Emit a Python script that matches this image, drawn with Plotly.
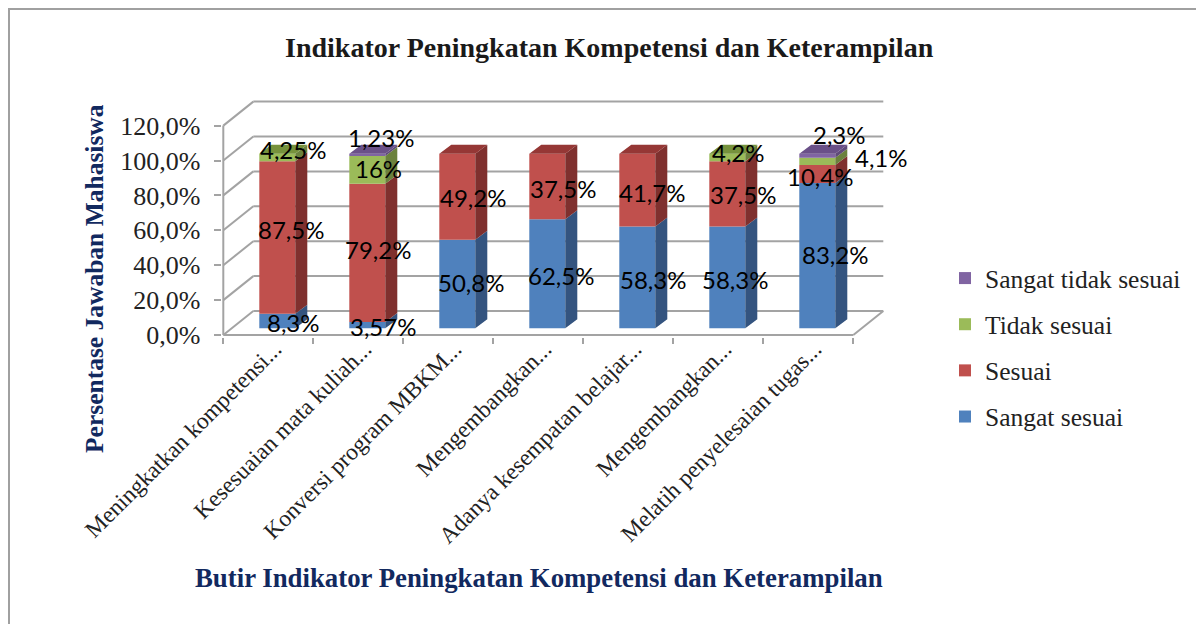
import plotly.graph_objects as go

categories = ["Meningkatkan kompetensi...", "Kesesuaian mata kuliah...", "Konversi program MBKM...",
              "Mengembangkan...", "Adanya kesempatan belajar...", "Mengembangkan...", "Melatih penyelesaian tugas..."]
sangat_sesuai = [8.3, 3.57, 50.8, 62.5, 58.3, 58.3, 83.2]
sesuai = [87.5, 79.2, 49.2, 37.5, 41.7, 37.5, 10.4]
tidak_sesuai = [4.25, 16, 0, 0, 0, 4.2, 4.1]
sangat_tidak_sesuai = [0, 1.23, 0, 0, 0, 0, 2.3]
value_labels = {
    "Sangat sesuai": ["8,3%", "3,57%", "50,8%", "62,5%", "58,3%", "58,3%", "83,2%"],
    "Sesuai": ["87,5%", "79,2%", "49,2%", "37,5%", "41,7%", "37,5%", "10,4%"],
    "Tidak sesuai": ["4,25%", "16%", "", "", "", "4,2%", "4,1%"],
    "Sangat tidak sesuai": ["", "1,23%", "", "", "", "", "2,3%"],
}
y_ticks = [0, 20, 40, 60, 80, 100, 120]
y_tick_labels = ["0,0%", "20,0%", "40,0%", "60,0%", "80,0%", "100,0%", "120,0%"]

series = [
    ("Sangat sesuai", sangat_sesuai, "#4F81BD", "#34547F", "#3E6596"),
    ("Sesuai", sesuai, "#C0504D", "#7F302E", "#953735"),
    ("Tidak sesuai", tidak_sesuai, "#9BBB59", "#6B813D", "#76923C"),
    ("Sangat tidak sesuai", sangat_tidak_sesuai, "#8064A2", "#5F4A7A", "#6A5088"),
]

# hand placed data labels in the original, pixel offset from the segment centre
label_shift = {
    "Sangat sesuai": [(16, 1), (16, 1), (14, -1), (14, 2), (16, 2), (8, 2), (18, -1)],
    "Sesuai": [(14, -8), (11, -3), (16, 1), (16, 2), (15, 2), (16, 1), (3, 2)],
    "Tidak sesuai": [(16, -8), (11, -1), (0, 0), (0, 0), (0, 0), (11, -5), (64, -4)],
    "Sangat tidak sesuai": [(0, 0), (14, -17), (0, 0), (0, 0), (0, 0), (0, 0), (22, -21)],
}

# the page adds an 8px body margin, so the figure is 8px smaller and everything is measured from there
PAGE = 8
W, H = 1204 - PAGE, 624 - PAGE

# pixel scale of the front plane
PX_X, PX_Y = 90.0, 1.745
LEFT, ZERO = 223.3 - PAGE, 335.0 - PAGE
X_MIN, X_MAX = -0.02, 7.4
Y_MIN, Y_MAX = -1, 135
WALL_DX, WALL_DY = 30 / PX_X, 24 / PX_Y
BAR_W = 36 / PX_X
BAR_OFF_X, BAR_OFF_Y = 9 / PX_X, 6.7 / PX_Y
SIDE_DX, SIDE_DY = 12 / PX_X, 9 / PX_Y

SERIF = "Liberation Serif"
NAVY = "#12295F"
GRID = "#A3A3A3"

fig = go.Figure()
shapes = []


def wall_line(x0, y0, x1, y1):
    return dict(type="line", xref="x", yref="y", x0=x0, y0=y0, x1=x1, y1=y1,
                line=dict(color=GRID, width=2), layer="below")


for t in y_ticks:
    shapes.append(wall_line(0, t, WALL_DX, t + WALL_DY))
    shapes.append(wall_line(WALL_DX, t + WALL_DY, 7 + WALL_DX, t + WALL_DY))
shapes.append(wall_line(0, 0, 0, 120))
shapes.append(wall_line(0, 0, 7, 0))
shapes.append(wall_line(7, 0, 7 + WALL_DX, WALL_DY))

centers = [i + 0.5 + BAR_OFF_X for i in range(len(categories))]
annotations = []
base = [BAR_OFF_Y] * len(categories)
totals = [sum(s[1][i] for s in series) for i in range(len(categories))]
for rank, (name, vals, color, side, top) in enumerate(series):
    fig.add_trace(go.Bar(x=centers, y=vals, base=base, width=BAR_W, name=name, legendgroup=name, legendrank=100 - rank,
                         marker=dict(color=color, line=dict(width=0)), hoverinfo="skip"))
    side_x, side_y, top_x, top_y = [], [], [], []
    for i, v in enumerate(vals):
        if v == 0:
            continue
        r = centers[i] + BAR_W / 2
        side_x += [r, r + SIDE_DX, r + SIDE_DX, r, r, None]
        side_y += [base[i], base[i] + SIDE_DY, base[i] + v + SIDE_DY, base[i] + v, base[i], None]
        if base[i] + v >= totals[i] + BAR_OFF_Y - 0.01:
            l = r - BAR_W
            t = base[i] + v
            top_x += [l, r, r + SIDE_DX, l + SIDE_DX, l, None]
            top_y += [t, t, t + SIDE_DY, t + SIDE_DY, t, None]
        label = value_labels[name][i]
        dx, dy = label_shift[name][i]
        annotations.append(dict(x=centers[i], y=base[i] + v / 2, text=label, showarrow=False,
                                xshift=dx, yshift=-dy, font=dict(family="Lato", size=24, color="black")))
    fig.add_trace(go.Scatter(x=side_x, y=side_y, mode="lines", fill="toself", fillcolor=side,
                             line=dict(width=0, color=side), showlegend=False, hoverinfo="skip"))
    if top_x:
        fig.add_trace(go.Scatter(x=top_x, y=top_y, mode="lines", fill="toself", fillcolor=top,
                                 line=dict(width=0, color=top), showlegend=False, hoverinfo="skip"))
    base = [b + v for b, v in zip(base, vals)]

annotations += [
    dict(xref="paper", yref="paper", x=(609 - PAGE) / W, y=1 - (47 - PAGE) / H, xanchor="center", yanchor="middle",
         text="<b>Indikator Peningkatan Kompetensi dan Keterampilan</b>",
         showarrow=False, font=dict(family=SERIF, size=28, color="#1a1a1a")),
    dict(xref="paper", yref="paper", x=(539 - PAGE) / W, y=1 - (578 - PAGE) / H, xanchor="center", yanchor="middle",
         text="<b>Butir Indikator Peningkatan Kompetensi dan Keterampilan</b>",
         showarrow=False, font=dict(family=SERIF, size=26.8, color=NAVY)),
    dict(xref="paper", yref="paper", x=(94 - PAGE) / W, y=1 - (278 - PAGE) / H, xanchor="center", yanchor="middle",
         text="<b>Persentase Jawaban Mahasiswa</b>", textangle=-90,
         showarrow=False, font=dict(family=SERIF, size=25.5, color=NAVY)),
]

# chart frame, only left and top edges fall inside the picture
shapes += [
    dict(type="line", xref="paper", yref="paper", x0=0, x1=0, y0=0, y1=1, line=dict(color="#A0A0A0", width=4)),
    dict(type="line", xref="paper", yref="paper", x0=0, x1=1, y0=1, y1=1, line=dict(color="#A0A0A0", width=4)),
]

fig.update_layout(
    width=W, height=H, margin=dict(l=0, r=0, t=0, b=0, autoexpand=False),
    paper_bgcolor="white", plot_bgcolor="white", barmode="overlay",
    shapes=shapes, annotations=annotations,
    legend=dict(x=(945 - PAGE) / W, y=1 - (255 - PAGE) / H, xanchor="left", yanchor="top", traceorder="grouped",
                tracegroupgap=10, font=dict(family=SERIF, size=25.5, color="#222222"), bgcolor="rgba(0,0,0,0)"),
    xaxis=dict(domain=[(LEFT + X_MIN * PX_X) / W, (LEFT + X_MAX * PX_X) / W], range=[X_MIN, X_MAX],
               tickmode="array", tickvals=[i + 0.5 + 0.07 for i in range(7)], ticktext=categories, tickangle=-45,
               ticks="", showgrid=False, zeroline=False, showline=False, ticklabelstandoff=-7,
               tickfont=dict(family=SERIF, size=23.4, color="#222222"),
               minor=dict(tickmode="array", tickvals=list(range(8)), ticks="outside", ticklen=6, tickcolor=GRID, tickwidth=2, showgrid=False)),
    yaxis=dict(domain=[1 - (ZERO - Y_MIN * PX_Y) / H, 1 - (ZERO - Y_MAX * PX_Y) / H], range=[Y_MIN, Y_MAX],
               tickmode="array", tickvals=y_ticks, ticktext=y_tick_labels, ticks="outside", ticklen=7,
               tickcolor=GRID, tickwidth=2, showgrid=False, zeroline=False, showline=False, ticklabelstandoff=8,
               tickfont=dict(family=SERIF, size=26, color="#222222")),
)

fig.write_html("out.html")
